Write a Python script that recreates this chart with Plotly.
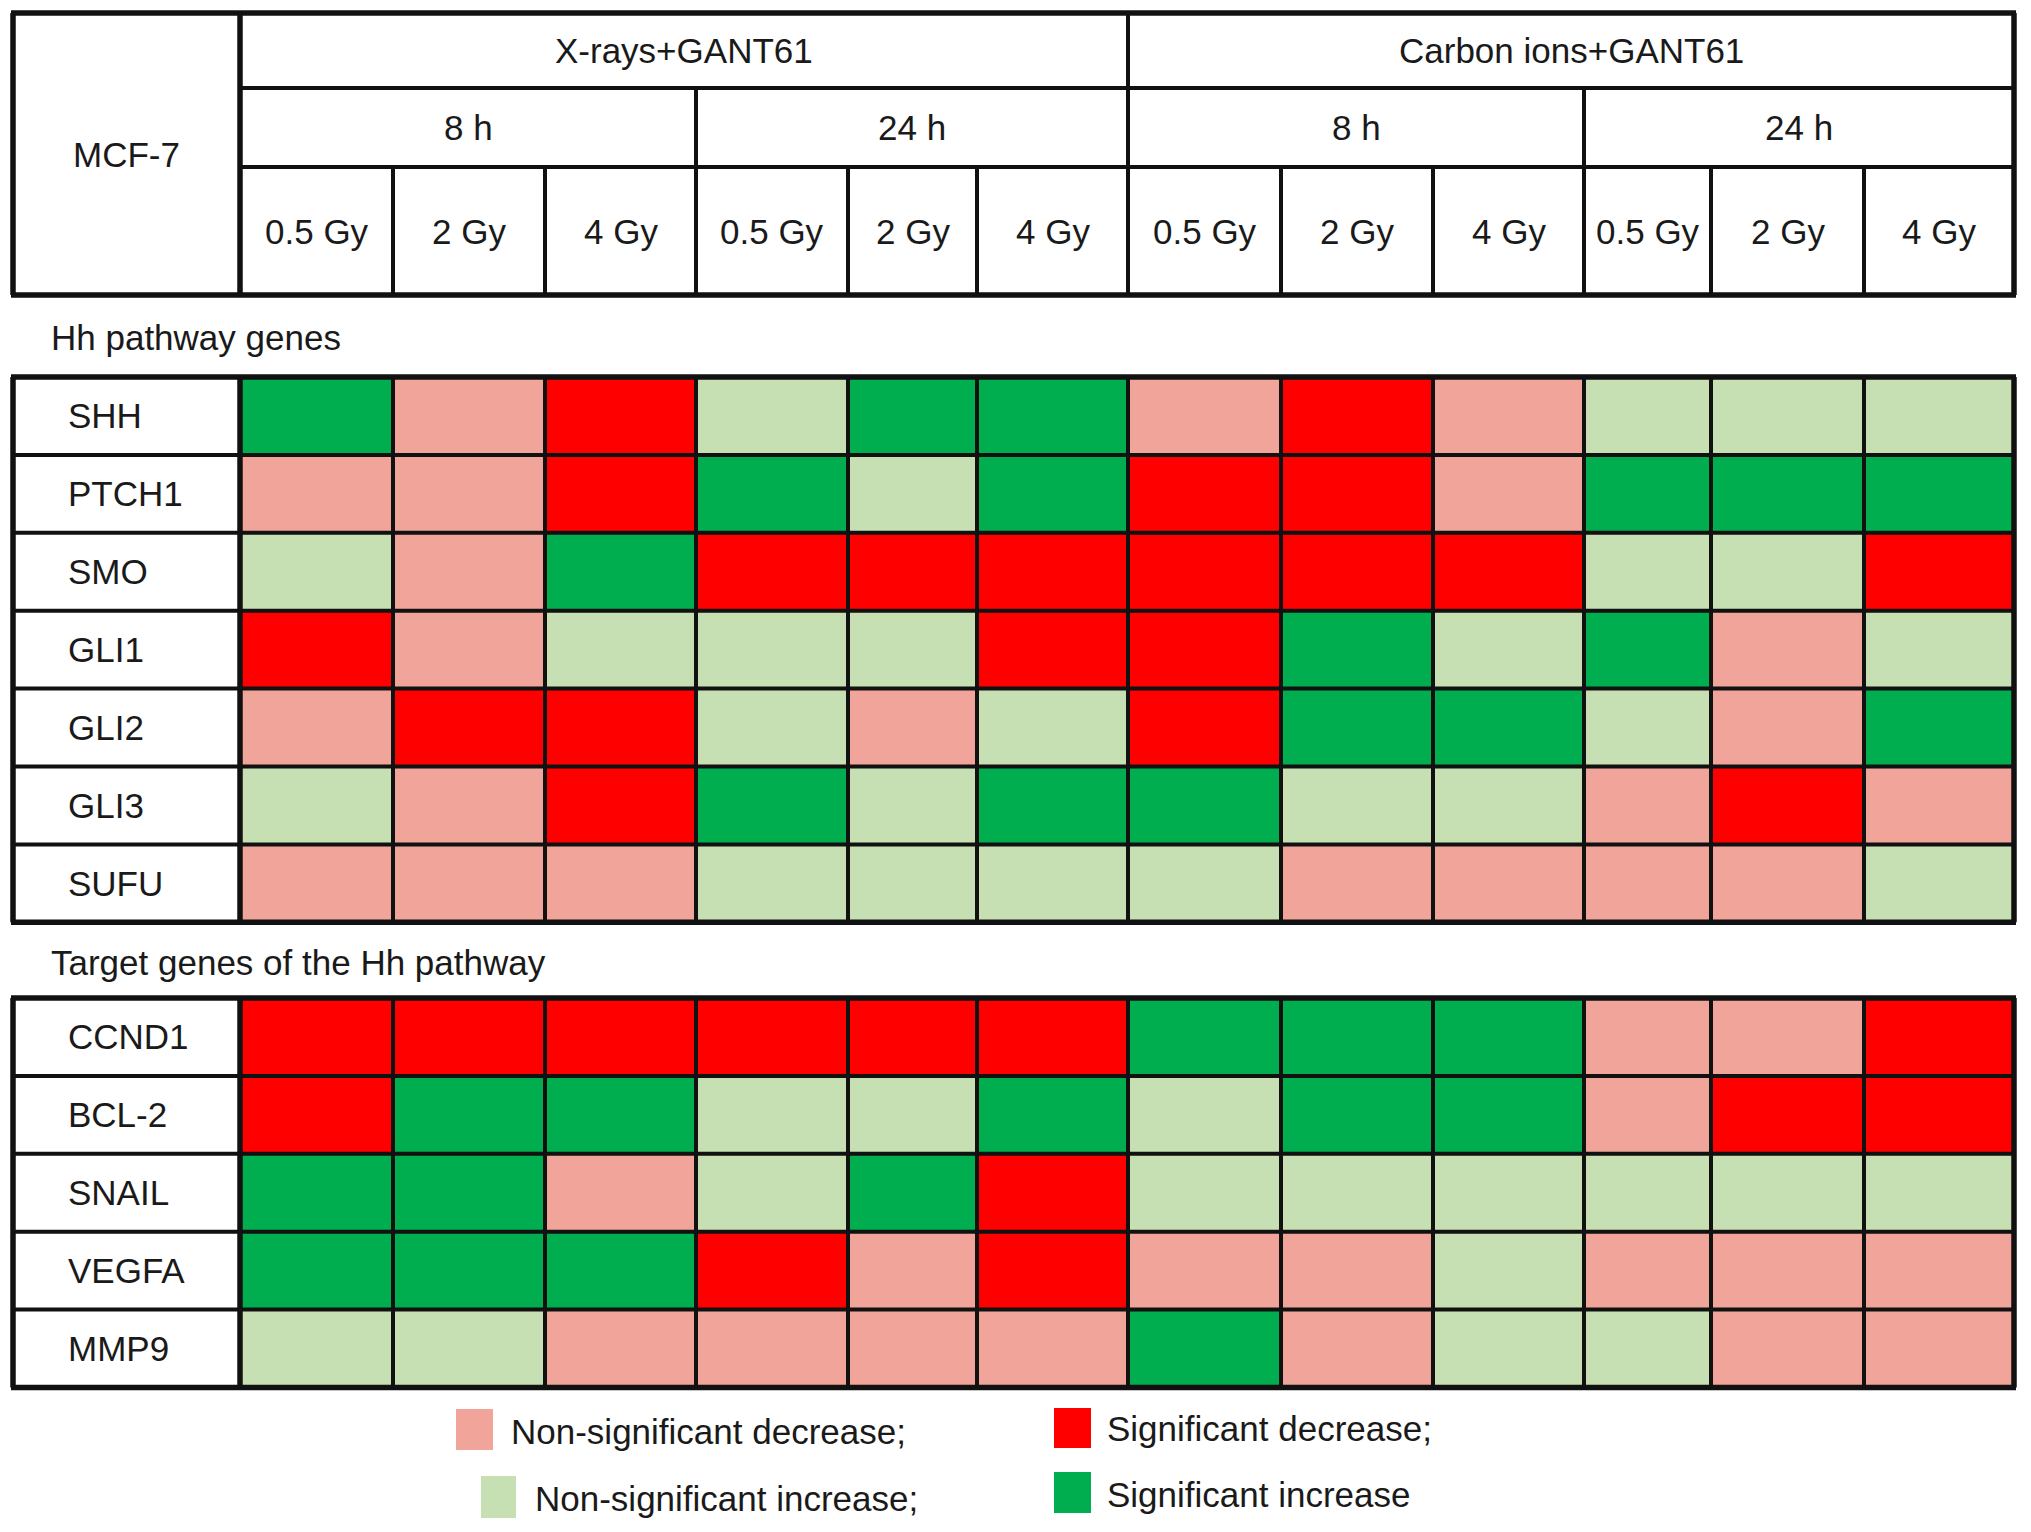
import plotly.graph_objects as go

# ------------------------------------------------------------------ data
cell_line = "MCF-7"
treatments = ["X-rays+GANT61", "Carbon ions+GANT61"]
timepoints = ["8 h", "24 h"]
doses = ["0.5 Gy", "2 Gy", "4 Gy"]
section_titles = ["Hh pathway genes", "Target genes of the Hh pathway"]
hh_genes = ["SHH", "PTCH1", "SMO", "GLI1", "GLI2", "GLI3", "SUFU"]
target_genes = ["CCND1", "BCL-2", "SNAIL", "VEGFA", "MMP9"]
status_labels = ["Non-significant decrease;", "Significant decrease;",
                 "Non-significant increase;", "Significant increase"]
# status codes: 0 = n.s. decrease, 1 = sig. decrease, 2 = n.s. increase, 3 = sig. increase
# columns: X 8h (0.5, 2, 4), X 24h (0.5, 2, 4), C 8h (0.5, 2, 4), C 24h (0.5, 2, 4)
hh_status = [
    [3, 0, 1, 2, 3, 3, 0, 1, 0, 2, 2, 2],  # SHH
    [0, 0, 1, 3, 2, 3, 1, 1, 0, 3, 3, 3],  # PTCH1
    [2, 0, 3, 1, 1, 1, 1, 1, 1, 2, 2, 1],  # SMO
    [1, 0, 2, 2, 2, 1, 1, 3, 2, 3, 0, 2],  # GLI1
    [0, 1, 1, 2, 0, 2, 1, 3, 3, 2, 0, 3],  # GLI2
    [2, 0, 1, 3, 2, 3, 3, 2, 2, 0, 1, 0],  # GLI3
    [0, 0, 0, 2, 2, 2, 2, 0, 0, 0, 0, 2],  # SUFU
]
target_status = [
    [1, 1, 1, 1, 1, 1, 3, 3, 3, 0, 0, 1],  # CCND1
    [1, 3, 3, 2, 2, 3, 2, 3, 3, 0, 1, 1],  # BCL-2
    [3, 3, 0, 2, 3, 1, 2, 2, 2, 2, 2, 2],  # SNAIL
    [3, 3, 3, 1, 0, 1, 0, 0, 2, 0, 0, 0],  # VEGFA
    [2, 2, 0, 0, 0, 0, 3, 0, 2, 2, 0, 0],  # MMP9
]

# ------------------------------------------------------------------ style / layout
W, H = 2031, 1532
PAGE_OFFSET = 8  # default body margin of the HTML page
STATUS_COLORS = ["#F1A499", "#FF0000", "#C6E0B4", "#00AD4F"]
FONT = "Liberation Sans, Arial, Helvetica, sans-serif"
TEXT_COLOR = "#1a1a1a"
FS = 35
LINE_COLOR = "#111111"
LW_IN = 4
LW_OUT = 5.5

X_LEFT = 13
LABEL_RIGHT = 240
COL_WIDTHS = [153, 152, 151, 152, 129, 151, 153, 152, 151, 127, 153, 150]
HEADER_Y = [13, 88, 167, 295]
BLOCK_TOPS = [377, 998]
ROW_H = 77.9
TITLE_Y = [337, 962]
TITLE_X = 49
GENE_X = 66

LEGEND_POS = [  # (square x0, x1, y0, y1, text x, text y)
    (456, 493, 1409, 1450, 509, 1431),
    (1054, 1091, 1408, 1448, 1105, 1428),
    (481, 516, 1476, 1518, 533, 1498),
    (1054, 1091, 1472, 1513, 1105, 1494),
]

col_edges = [LABEL_RIGHT]
for w in COL_WIDTHS:
    col_edges.append(col_edges[-1] + w)
X_RIGHT = col_edges[-1]

conditions = [f"{t}, {tp}, {d}" for t in treatments for tp in timepoints for d in doses]

n = len(STATUS_COLORS)
colorscale = []
for i, c in enumerate(STATUS_COLORS):
    colorscale.append([i / n, c])
    colorscale.append([(i + 1) / n, c])

fig = go.Figure()
shapes = []
annotations = []


def hline(y, x0, x1, w=LW_IN):
    shapes.append(dict(type="line", xref="x", yref="y", x0=x0, x1=x1, y0=y, y1=y,
                       line=dict(color=LINE_COLOR, width=w)))


def vline(x, y0, y1, w=LW_IN):
    shapes.append(dict(type="line", xref="x", yref="y", x0=x, x1=x, y0=y0, y1=y1,
                       line=dict(color=LINE_COLOR, width=w)))


def text(x, y, s, anchor="center"):
    annotations.append(dict(x=x, y=y, xref="x", yref="y", text=s, showarrow=False,
                            xanchor=anchor, yanchor="middle",
                            font=dict(family=FONT, size=FS, color=TEXT_COLOR)))


# ---------------- header
top, y1, y2, bot = HEADER_Y
hline(top, X_LEFT - 2, X_RIGHT + 2, LW_OUT)
hline(bot, X_LEFT - 2, X_RIGHT + 2, LW_OUT)
hline(y1, LABEL_RIGHT, X_RIGHT)
hline(y2, LABEL_RIGHT, X_RIGHT)
vline(X_LEFT, top, bot, LW_OUT)
vline(X_RIGHT, top, bot, LW_OUT)
vline(LABEL_RIGHT, top, bot, LW_OUT)
text((X_LEFT + LABEL_RIGHT) / 2, (top + bot) / 2, cell_line)

nd = len(doses)
ntp = len(timepoints)
for ti, t in enumerate(treatments):
    a = ti * ntp * nd
    b = a + ntp * nd
    if ti > 0:
        vline(col_edges[a], top, bot)
    text((col_edges[a] + col_edges[b]) / 2, (top + y1) / 2, t)
    for pi, tp in enumerate(timepoints):
        c0 = a + pi * nd
        c1 = c0 + nd
        if pi > 0:
            vline(col_edges[c0], y1, bot)
        text((col_edges[c0] + col_edges[c1]) / 2, (y1 + y2) / 2, tp)
        for di, d in enumerate(doses):
            k = c0 + di
            if di > 0:
                vline(col_edges[k], y2, bot)
            text((col_edges[k] + col_edges[k + 1]) / 2, (y2 + bot) / 2, d)

# ---------------- blocks
blocks = [(hh_genes, hh_status), (target_genes, target_status)]
for bi, (genes, status) in enumerate(blocks):
    btop = BLOCK_TOPS[bi]
    row_edges = [btop + i * ROW_H for i in range(len(genes) + 1)]
    bbot = row_edges[-1]
    hover = [[f"{g}<br>{conditions[j]}<br>{status_labels[v].rstrip(';')}"
              for j, v in enumerate(row)] for g, row in zip(genes, status)]
    fig.add_trace(go.Heatmap(
        z=status, x=col_edges, y=row_edges, colorscale=colorscale,
        zmin=-0.5, zmax=n - 0.5, showscale=False,
        text=hover, hoverinfo="text", name=section_titles[bi]))
    annotations.append(dict(x=TITLE_X, y=TITLE_Y[bi], xref="x", yref="y",
                            text=section_titles[bi], showarrow=False,
                            xanchor="left", yanchor="middle",
                            font=dict(family=FONT, size=FS, color=TEXT_COLOR)))
    for i, g in enumerate(genes):
        text(GENE_X, (row_edges[i] + row_edges[i + 1]) / 2, g, anchor="left")
        if i > 0:
            hline(row_edges[i], X_LEFT, X_RIGHT)
    for k in range(1, len(col_edges) - 1):
        vline(col_edges[k], btop, bbot)
    vline(LABEL_RIGHT, btop, bbot, LW_OUT)
    vline(X_LEFT, btop, bbot, LW_OUT)
    vline(X_RIGHT, btop, bbot, LW_OUT)
    hline(btop, X_LEFT - 2, X_RIGHT + 2, LW_OUT)
    hline(bbot, X_LEFT - 2, X_RIGHT + 2, LW_OUT)

# ---------------- legend key
for (sx0, sx1, sy0, sy1, tx, ty), col, lab in zip(LEGEND_POS, STATUS_COLORS, status_labels):
    shapes.append(dict(type="rect", xref="x", yref="y", x0=sx0, x1=sx1, y0=sy0, y1=sy1,
                       fillcolor=col, line=dict(width=0)))
    text(tx, ty, lab, anchor="left")

fig.update_layout(
    width=W, height=H,
    margin=dict(l=0, r=0, t=0, b=0),
    paper_bgcolor="white", plot_bgcolor="white",
    xaxis=dict(range=[PAGE_OFFSET, W + PAGE_OFFSET], visible=False, domain=[0, 1],
               fixedrange=True),
    yaxis=dict(range=[H + PAGE_OFFSET, PAGE_OFFSET], visible=False, domain=[0, 1],
               fixedrange=True),
    shapes=shapes, annotations=annotations,
    showlegend=False,
    font=dict(family=FONT),
)

fig.write_html("out.html")
